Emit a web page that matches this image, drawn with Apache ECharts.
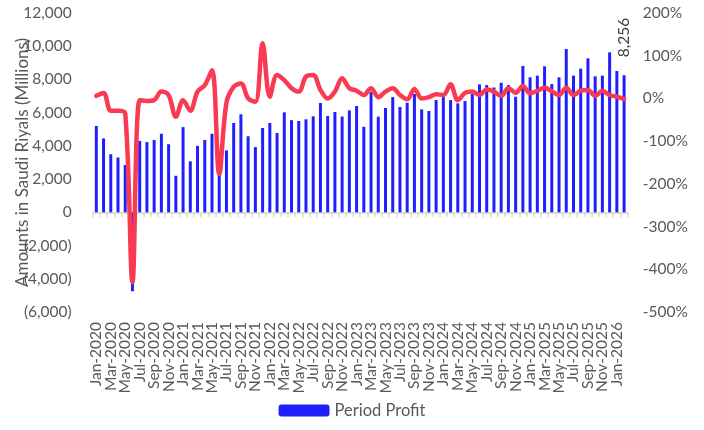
<!DOCTYPE html>
<html>
<head>
<meta charset="utf-8">
<script src="https://cdn.jsdelivr.net/npm/echarts@6/dist/echarts.min.js"></script>
<style>
  html, body { margin: 0; padding: 0; background: #ffffff; }
  #chart { width: 704px; height: 430px; }
</style>
</head>
<body>
<div id="chart"></div>
<script>
// Monthly periods, Jan-2020 .. Feb-2026
const months = [
  'Jan-2020','Feb-2020','Mar-2020','Apr-2020','May-2020','Jun-2020','Jul-2020','Aug-2020','Sep-2020','Oct-2020','Nov-2020','Dec-2020',
  'Jan-2021','Feb-2021','Mar-2021','Apr-2021','May-2021','Jun-2021','Jul-2021','Aug-2021','Sep-2021','Oct-2021','Nov-2021','Dec-2021',
  'Jan-2022','Feb-2022','Mar-2022','Apr-2022','May-2022','Jun-2022','Jul-2022','Aug-2022','Sep-2022','Oct-2022','Nov-2022','Dec-2022',
  'Jan-2023','Feb-2023','Mar-2023','Apr-2023','May-2023','Jun-2023','Jul-2023','Aug-2023','Sep-2023','Oct-2023','Nov-2023','Dec-2023',
  'Jan-2024','Feb-2024','Mar-2024','Apr-2024','May-2024','Jun-2024','Jul-2024','Aug-2024','Sep-2024','Oct-2024','Nov-2024','Dec-2024',
  'Jan-2025','Feb-2025','Mar-2025','Apr-2025','May-2025','Jun-2025','Jul-2025','Aug-2025','Sep-2025','Oct-2025','Nov-2025','Dec-2025',
  'Jan-2026','Feb-2026'
];

// Period profit, SAR millions
const periodProfit = [
  5200, 4450, 3500, 3300, 2850, -4750, 4300, 4230, 4350, 4730, 4100, 2200,
  5130, 3070, 4000, 4350, 4730, 3650, 3730, 5380, 5900, 4580, 3930, 5080,
  5380, 4780, 6020, 5550, 5500, 5600, 5780, 6580, 5800, 6040, 5770, 6140,
  6400, 5150, 7240, 5760, 6280, 6940, 6340, 6600, 7120, 6200, 6100, 6760,
  6940, 6760, 6560, 6700, 7120, 7700, 7660, 7520, 7800, 7660, 6960, 8810,
  8130, 8230, 8790, 7720, 8130, 9830, 8230, 8650, 9270, 8190, 8230, 9630,
  8510, 8256
];

// Growth rate, %
const growthPct = [
  6, 13, -29, -29, -35, -430, -4, -6, -4, 16, 8, -43,
  -4, -29, 16, 31, 66, -177, -10, 27, 35, 0, -8, 129,
  4, 55, 43, 24, 16, 51, 55, 20, 0, 16, 47, 24,
  18, 8, 24, 3, 16, 24, 8, -2, 22, 0, 3, 10,
  8, 33, -4, 13, 16, 8, 21, 16, 6, 24, 13, 29,
  12, 18, 25, 17, 8, 25, 8, 18, 20, 6, 18, 8,
  4, -1
];

const leftTicks = { min: -6000, max: 12000, step: 2000 };
const rightTicks = { min: -500, max: 200, step: 100 };

const FONT = 'Lato';
const GREY = '#595959';

function thousands(v) {
  return Math.round(v).toString().replace(/\B(?=(\d{3})+(?!\d))/g, ',');
}
function amountLabel(v) {
  if (v < 0) return '(' + thousands(-v) + ')';
  return thousands(v);
}

const lastIdx = periodProfit.length - 1;
const barData = periodProfit.map((v, i) => i === lastIdx ? {
  value: v,
  label: {
    show: true,
    position: 'top',
    distance: 18,
    rotate: 90,
    align: 'left',
    verticalAlign: 'middle',
    formatter: p => thousands(p.value),
    color: '#404040',
    fontFamily: FONT,
    fontSize: 15.5
  }
} : v);

const chart = echarts.init(document.getElementById('chart'), null, { renderer: 'canvas' });

chart.setOption({
  animation: false,
  backgroundColor: '#ffffff',
  grid: {
    left: 92.7, right: 76.3, top: 13, bottom: 118,
    containLabel: false,
    outerBoundsMode: 'none'
  },
  legend: {
    data: ['Period Profit'],
    bottom: 6,
    left: 'center',
    itemWidth: 51,
    itemHeight: 12,
    itemGap: 8,
    textStyle: { color: GREY, fontFamily: FONT, fontSize: 16.5 }
  },
  xAxis: [
    {
      type: 'category',
      data: months,
      position: 'bottom',
      boundaryGap: true,
      axisLine: { show: false, onZero: false },
      axisTick: { show: false },
      axisLabel: {
        interval: 0,
        rotate: 90,
        margin: 10,
        color: GREY,
        fontFamily: FONT,
        fontSize: 15.5,
        // every second month is labelled
        formatter: (value, index) => (index % 2 === 0 ? value : '')
      },
      splitLine: { show: false }
    },
    {
      type: 'category',
      data: months,
      position: 'top',
      boundaryGap: true,
      axisLine: { show: true, onZero: true, onZeroAxisIndex: 0, lineStyle: { color: '#D9D9D9', width: 1.5 } },
      axisTick: { show: true, inside: true, interval: 0, length: 5, lineStyle: { color: '#D9D9D9', width: 1.5 } },
      axisLabel: { show: false },
      splitLine: { show: false }
    }
  ],
  yAxis: [
    {
      type: 'value',
      min: leftTicks.min,
      max: leftTicks.max,
      interval: leftTicks.step,
      position: 'left',
      name: 'Amounts in Saudi Riyals (Millions)',
      nameLocation: 'middle',
      nameRotate: 90,
      nameGap: 62,
      nameMoveOverlap: false,
      nameTextStyle: { color: GREY, fontFamily: FONT, fontSize: 17 },
      axisLine: { show: false },
      axisTick: { show: false },
      splitLine: { show: false },
      axisLabel: {
        margin: 21,
        color: GREY,
        fontFamily: FONT,
        fontSize: 15.5,
        formatter: amountLabel
      }
    },
    {
      type: 'value',
      min: rightTicks.min,
      max: rightTicks.max,
      interval: rightTicks.step,
      position: 'right',
      axisLine: { show: false },
      axisTick: { show: false },
      splitLine: { show: false },
      axisLabel: {
        margin: 15,
        color: GREY,
        fontFamily: FONT,
        fontSize: 15.5,
        formatter: v => v + '%'
      }
    }
  ],
  series: [
    {
      name: 'Period Profit',
      type: 'bar',
      xAxisIndex: 0,
      yAxisIndex: 0,
      data: barData,
      barWidth: 3,
      itemStyle: { color: '#2020FF' },
      z: 2
    },
    {
      name: 'Growth',
      type: 'line',
      xAxisIndex: 0,
      yAxisIndex: 1,
      data: growthPct,
      smooth: 0.35,
      showSymbol: false,
      symbol: 'none',
      lineStyle: { color: '#F93A52', width: 4.5, cap: 'round', join: 'round' },
      z: 3
    }
  ]
});
</script>
</body>
</html>
